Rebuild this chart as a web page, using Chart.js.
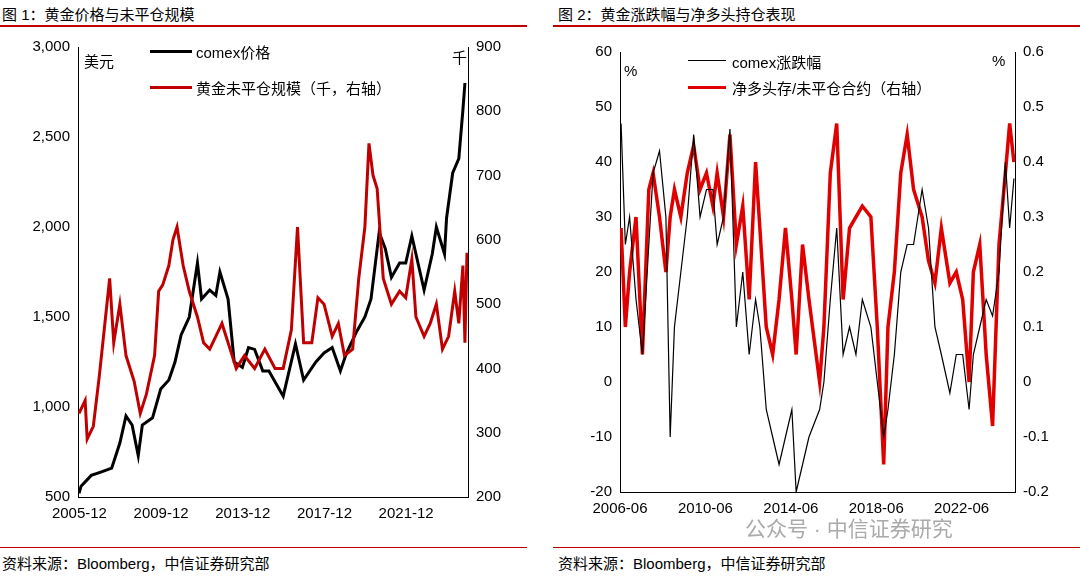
<!DOCTYPE html>
<html><head><meta charset="utf-8">
<script src="https://cdn.jsdelivr.net/npm/chart.js@4"></script>
<style>
body{margin:0;width:1080px;height:576px;background:#fff;font-family:"Liberation Sans","Noto Sans CJK SC",sans-serif;position:relative;overflow:hidden}
.abs{position:absolute;white-space:nowrap}
.t{font-size:15px;color:#000}
.hl{position:absolute;height:2px;background:#c00000}
.lg{position:absolute;height:3px}
</style></head><body>
<div class="abs t" style="left:2px;top:3px">图 1：黄金价格与未平仓规模</div>
<div class="abs t" style="left:558px;top:3px">图 2：黄金涨跌幅与净多头持仓表现</div>
<div class="hl" style="left:0;top:25px;width:527px"></div>
<div class="hl" style="left:553px;top:25px;width:527px"></div>
<div class="hl" style="left:0;top:547px;width:527px;height:1px"></div>
<div class="hl" style="left:553px;top:547px;width:527px;height:1px"></div>
<div class="abs t" style="left:2px;top:552px">资料来源：Bloomberg，中信证券研究部</div>
<div class="abs t" style="left:558px;top:552px">资料来源：Bloomberg，中信证券研究部</div>
<div style="position:absolute;left:0;top:30px;width:530px;height:500px"><canvas id="c1"></canvas></div>
<div style="position:absolute;left:545px;top:30px;width:535px;height:500px"><canvas id="c2"></canvas></div>
<div class="abs t" style="left:84px;top:50px">美元</div>
<div class="abs t" style="left:452px;top:46px">千</div>
<div class="lg" style="left:150px;top:50px;width:42px;background:#000"></div>
<div class="abs t" style="left:196px;top:41px">comex价格</div>
<div class="lg" style="left:150px;top:86px;width:42px;background:#c00000"></div>
<div class="abs t" style="left:196px;top:77px">黄金未平仓规模（千，右轴）</div>
<div class="abs t" style="left:624px;top:62px">%</div>
<div class="abs t" style="left:992px;top:52px">%</div>
<div class="lg" style="left:688px;top:60px;width:38px;height:1px;background:#000"></div>
<div class="abs t" style="left:732px;top:51px">comex涨跌幅</div>
<div class="lg" style="left:688px;top:86px;width:38px;background:#e00000"></div>
<div class="abs t" style="left:732px;top:77px">净多头存/未平仓合约（右轴）</div>
<div class="abs" style="left:745px;top:512px;font-size:21px;color:#aaa">公众号 · 中信证券研究</div>
<script>
const goldX=[2005.9,2006.0,2006.5,2007.0,2007.5,2007.9,2008.2,2008.5,2008.8,2009.0,2009.5,2009.9,2010.3,2010.6,2010.9,2011.3,2011.7,2011.9,2012.3,2012.6,2012.8,2013.2,2013.5,2013.9,2014.2,2014.5,2014.9,2015.2,2015.9,2016.5,2016.9,2017.5,2017.9,2018.3,2018.7,2019.0,2019.5,2019.9,2020.2,2020.6,2020.9,2021.2,2021.6,2021.9,2022.2,2022.8,2023.2,2023.4,2023.8,2023.9,2024.2,2024.5,2024.7,2024.8];
const goldPrice=[520,560,620,640,660,800,950,900,730,900,940,1100,1150,1250,1400,1500,1800,1600,1650,1620,1750,1600,1250,1220,1330,1320,1200,1200,1060,1350,1150,1250,1300,1330,1200,1300,1420,1500,1600,1970,1880,1720,1800,1800,1950,1650,1850,2000,1850,2050,2300,2380,2650,2800];
const oiX=[2005.9,2006.2,2006.3,2006.6,2006.9,2007.2,2007.4,2007.6,2007.9,2008.2,2008.6,2008.9,2009.2,2009.6,2009.8,2010.0,2010.3,2010.5,2010.7,2011.0,2011.3,2011.7,2012.0,2012.3,2012.6,2012.9,2013.3,2013.6,2014.0,2014.5,2015.0,2015.5,2015.9,2016.3,2016.6,2016.9,2017.3,2017.6,2017.9,2018.3,2018.6,2018.9,2019.3,2019.6,2019.9,2020.1,2020.3,2020.5,2020.8,2021.2,2021.6,2021.9,2022.2,2022.4,2022.8,2023.1,2023.4,2023.7,2024.0,2024.3,2024.5,2024.7,2024.8,2024.9];
const openInterest=[330,350,290,310,390,480,540,440,500,420,380,330,360,420,520,530,560,600,620,560,520,480,440,430,450,470,430,400,420,400,430,400,400,460,620,440,440,510,500,450,470,420,430,540,620,750,700,680,540,500,520,510,570,480,450,470,500,430,450,520,470,560,440,580];
const leftTickPos=[2005.92,2009.92,2013.92,2017.92,2021.92];
const leftTickLabels=['2005-12','2009-12','2013-12','2017-12','2021-12'];
const chgX=[2006.5,2006.7,2006.9,2007.2,2007.5,2007.8,2008.0,2008.3,2008.6,2008.8,2009.0,2009.3,2009.6,2009.9,2010.2,2010.5,2010.8,2011.0,2011.3,2011.6,2011.9,2012.2,2012.5,2012.8,2013.0,2013.3,2013.6,2013.9,2014.2,2014.5,2014.7,2015.0,2015.3,2015.8,2016.0,2016.3,2016.6,2016.9,2017.2,2017.5,2017.8,2018.2,2018.5,2018.8,2019.0,2019.3,2019.6,2019.9,2020.2,2020.6,2020.9,2021.2,2021.5,2021.9,2022.2,2022.5,2022.8,2023.0,2023.3,2023.6,2023.9,2024.2,2024.5,2024.7,2024.9];
const comexChange=[47,25,30,15,5,25,38,42,30,-10,10,20,30,45,30,35,35,25,30,46,10,20,5,15,10,-5,-10,-15,-10,-5,-20,-15,-10,-5,0,15,28,5,10,5,15,10,0,-10,-5,5,20,25,25,35,28,10,5,-2,5,5,-5,5,10,15,12,20,40,28,37];
const netLongRatio=[0.28,0.1,0.2,0.3,0.05,0.35,0.38,0.3,0.2,0.3,0.35,0.3,0.38,0.43,0.35,0.38,0.32,0.38,0.3,0.45,0.25,0.32,0.15,0.4,0.28,0.1,0.05,0.15,0.28,0.15,0.05,0.25,0.15,0.0,0.1,0.38,0.47,0.15,0.28,0.3,0.32,0.3,0.1,-0.15,0.1,0.2,0.38,0.45,0.35,0.3,0.22,0.18,0.28,0.18,0.2,0.15,0.0,0.2,0.25,0.05,-0.08,0.25,0.38,0.47,0.4];
const rightTickPos=[2006.45,2010.45,2014.45,2018.45,2022.45];
const rightTickLabels=['2006-06','2010-06','2014-06','2018-06','2022-06'];

Chart.defaults.font.family='"Liberation Sans","Noto Sans CJK SC",sans-serif';
Chart.defaults.font.size=15;
Chart.defaults.color='#000';
const pts=(xs,ys)=>xs.map((x,i)=>({x:x,y:ys[i]}));
function xAxis(min,max,pos,labels,h){return {type:'linear',min:min,max:max,grid:{display:false,drawTicks:true,tickLength:5,color:'#000'},border:{color:'#000'},
 afterBuildTicks:a=>{a.ticks=pos.map(v=>({value:v}))},ticks:{autoSkip:false,maxRotation:0,callback:v=>{const i=pos.indexOf(v);return i>=0?labels[i]:''}},afterFit:a=>{a.height=h}};}
function yAxis(pos,min,max,step,w,fmt){return {type:'linear',position:pos,min:min,max:max,grid:{display:false,tickLength:5,color:'#000'},border:{color:'#000'},ticks:{stepSize:step,callback:fmt},afterFit:a=>{a.width=w}};}
const common={responsive:true,maintainAspectRatio:false,animation:false,plugins:{legend:{display:false},tooltip:{enabled:false}},elements:{point:{radius:0}}};
new Chart(document.getElementById('c1'),{type:'line',data:{datasets:[
 {data:pts(oiX,openInterest),borderColor:'#c00000',borderWidth:3,yAxisID:'y1',tension:0},
 {data:pts(goldX,goldPrice),borderColor:'#000',borderWidth:3,yAxisID:'y',tension:0}]},
 options:{...common,layout:{padding:{top:17}},scales:{
  x:xAxis(2005.85,2024.95,leftTickPos,leftTickLabels,33),
  y:yAxis('left',500,3000,500,78,v=>v.toLocaleString('en-US')),
  y1:yAxis('right',200,900,100,62,v=>v)}}});
new Chart(document.getElementById('c2'),{type:'line',data:{datasets:[
 {data:pts(chgX,comexChange),borderColor:'#000',borderWidth:1.2,yAxisID:'y',tension:0},
 {data:pts(chgX,netLongRatio),borderColor:'#e00000',borderWidth:3.5,yAxisID:'y1',tension:0}]},
 options:{...common,layout:{padding:{top:22}},scales:{
  x:xAxis(2006.45,2024.95,rightTickPos,rightTickLabels,38),
  y:yAxis('left',-20,60,10,75,v=>v),
  y1:yAxis('right',-0.2,0.6,0.1,65,v=>Math.round(v*10)/10)}}});
</script></body></html>
